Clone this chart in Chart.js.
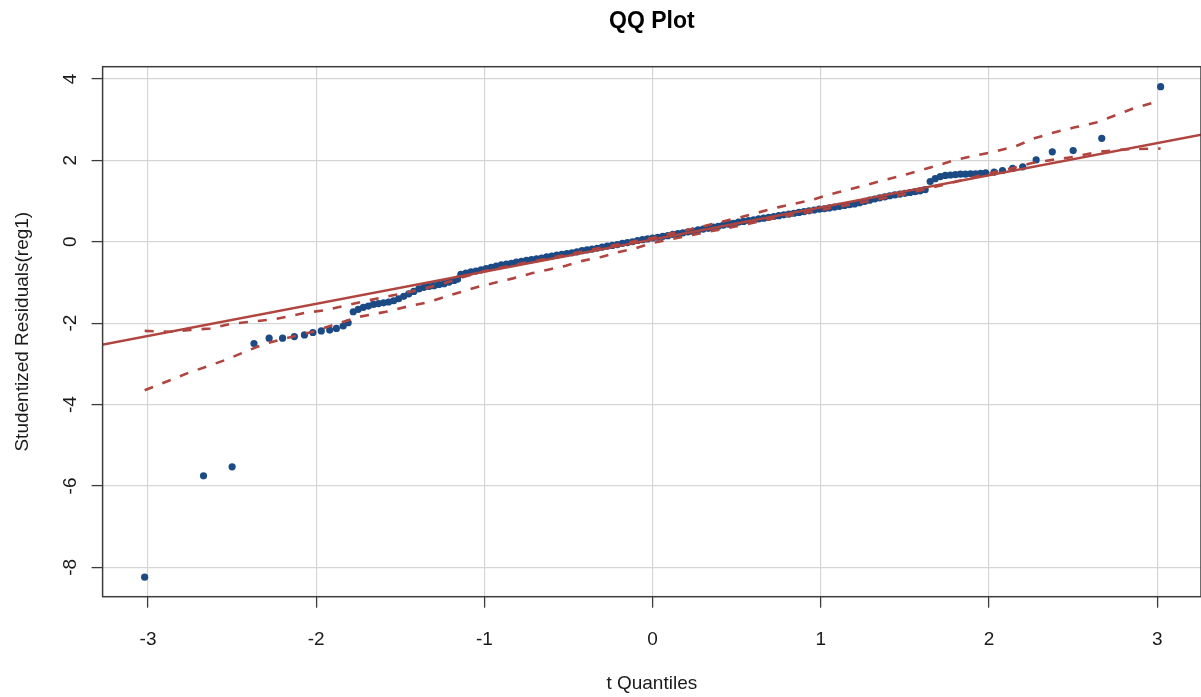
<!DOCTYPE html>
<html>
<head>
<meta charset="utf-8">
<title>QQ Plot</title>
<script src="https://cdn.jsdelivr.net/npm/chart.js@4/dist/chart.umd.min.js"></script>
<style>
  html, body { margin: 0; padding: 0; background: #ffffff; overflow: hidden; }
  canvas { display: block; }
</style>
</head>
<body>
<canvas id="qq" width="1205" height="697"></canvas>
<script>
// Theoretical t quantiles (x) and sorted studentized residuals (y)
const quantileX = [
  -3.02, -2.67, -2.50, -2.37, -2.28, -2.20, -2.13, -2.07, -2.02, -1.97, -1.92, -1.88, -1.84, -1.81, -1.78,
  -1.75, -1.72, -1.69, -1.66, -1.63, -1.60, -1.57, -1.54, -1.51, -1.48, -1.45, -1.42, -1.39, -1.36, -1.33,
  -1.30, -1.27, -1.24, -1.21, -1.18, -1.16, -1.14, -1.11, -1.08, -1.05, -1.02, -0.99, -0.96, -0.93, -0.90,
  -0.87, -0.84, -0.81, -0.78, -0.75, -0.72, -0.69, -0.66, -0.63, -0.60, -0.57, -0.54, -0.51, -0.48, -0.45,
  -0.42, -0.39, -0.36, -0.33, -0.30, -0.27, -0.24, -0.21, -0.18, -0.15, -0.12, -0.09, -0.06, -0.03, 0.00,
  0.03, 0.06, 0.09, 0.12, 0.15, 0.18, 0.21, 0.24, 0.27, 0.30, 0.33, 0.36, 0.39, 0.42, 0.45,
  0.48, 0.51, 0.54, 0.57, 0.60, 0.63, 0.66, 0.69, 0.72, 0.75, 0.78, 0.81, 0.84, 0.87, 0.90,
  0.93, 0.96, 0.99, 1.02, 1.05, 1.08, 1.11, 1.14, 1.17, 1.20, 1.23, 1.26, 1.29, 1.32, 1.35,
  1.38, 1.41, 1.44, 1.47, 1.50, 1.53, 1.56, 1.59, 1.62, 1.65, 1.68, 1.71, 1.74, 1.77, 1.80,
  1.83, 1.86, 1.89, 1.92, 1.95, 1.98, 2.03, 2.08, 2.14, 2.20, 2.28, 2.376, 2.50, 2.67, 3.02
];
const residualY = [
  -8.24, -5.75, -5.53, -2.50, -2.37, -2.37, -2.33, -2.29, -2.23, -2.19, -2.17, -2.13, -2.07, -1.99, -1.72,
  -1.66, -1.61, -1.58, -1.54, -1.52, -1.50, -1.48, -1.45, -1.40, -1.34, -1.28, -1.22, -1.16, -1.12, -1.10,
  -1.08, -1.05, -1.03, -0.99, -0.95, -0.92, -0.80, -0.77, -0.74, -0.72, -0.69, -0.66, -0.63, -0.60, -0.57,
  -0.55, -0.53, -0.50, -0.48, -0.46, -0.44, -0.42, -0.40, -0.37, -0.35, -0.33, -0.31, -0.29, -0.27, -0.25,
  -0.22, -0.20, -0.18, -0.16, -0.13, -0.11, -0.09, -0.07, -0.04, -0.02, 0.00, 0.03, 0.05, 0.07, 0.09,
  0.11, 0.13, 0.15, 0.18, 0.20, 0.22, 0.24, 0.26, 0.29, 0.31, 0.33, 0.36, 0.38, 0.41, 0.43,
  0.45, 0.48, 0.50, 0.52, 0.54, 0.56, 0.58, 0.60, 0.62, 0.64, 0.66, 0.68, 0.70, 0.72, 0.74,
  0.76, 0.78, 0.80, 0.81, 0.83, 0.85, 0.87, 0.89, 0.91, 0.93, 0.96, 0.99, 1.02, 1.05, 1.08,
  1.10, 1.13, 1.15, 1.17, 1.19, 1.21, 1.23, 1.25, 1.28, 1.48, 1.55, 1.60, 1.63, 1.64, 1.65,
  1.66, 1.66, 1.67, 1.67, 1.68, 1.69, 1.71, 1.75, 1.80, 1.84, 2.01, 2.21, 2.24, 2.54, 3.81
];

// Reference line through the quartiles (end points beyond the plot edges)
const refLineX = [-3.4, 3.4];
const refLineY = [-2.63, 2.74];

// Pointwise confidence envelope
const upperX = [-3.02, -2.87, -2.75, -2.63, -2.51, -2.40, -2.26, -2.16, -2.06, -1.94, -1.82, -1.70, -1.585, -1.466,
  -1.35, -1.23, -1.11, -1.00, -0.75, -0.50, -0.25, 0.00, 0.25, 0.51, 0.75, 0.94, 1.05, 1.156, 1.265, 1.364,
  1.47, 1.58, 1.69, 1.80, 1.92, 2.04, 2.16, 2.27, 2.38, 2.51, 2.63, 2.74, 2.86, 3.02];
const upperY = [-2.19, -2.21, -2.17, -2.13, -2.02, -1.97, -1.91, -1.83, -1.74, -1.68, -1.56, -1.45, -1.35, -1.25,
  -1.14, -1.01, -0.85, -0.72, -0.51, -0.31, -0.10, 0.10, 0.33, 0.59, 0.85, 1.02, 1.16, 1.27, 1.39, 1.50,
  1.61, 1.74, 1.87, 2.01, 2.12, 2.22, 2.35, 2.54, 2.68, 2.81, 2.92, 3.09, 3.28, 3.47];
const lowerX = [-3.02, -2.88, -2.76, -2.64, -2.53, -2.41, -2.30, -2.18, -2.02, -1.88, -1.74, -1.585, -1.466, -1.33,
  -1.17, -1.03, -0.83, -0.714, -0.615, -0.516, -0.417, -0.30, -0.21, -0.10, 0.00, 0.25, 0.50, 0.75, 1.00, 1.25,
  1.50, 1.75, 1.96, 2.13, 2.25, 2.39, 2.51, 2.65, 2.81, 3.02];
const lowerY = [-3.65, -3.42, -3.22, -3.05, -2.89, -2.68, -2.50, -2.37, -2.21, -2.02, -1.84, -1.72, -1.60, -1.48,
  -1.27, -1.10, -0.90, -0.77, -0.68, -0.59, -0.47, -0.37, -0.26, -0.16, -0.03, 0.18, 0.38, 0.60, 0.78, 0.97,
  1.17, 1.42, 1.64, 1.80, 1.93, 2.02, 2.09, 2.21, 2.27, 2.29];

const xTickLabels = ['-3', '-2', '-1', '0', '1', '2', '3'];
const yTickLabels = ['-8', '-6', '-4', '-2', '0', '2', '4'];

const pairs = (xs, ys) => xs.map((x, i) => ({ x: x, y: ys[i] }));

const RED = '#b0443f';
const BLUE = '#1b4a84';
const FONT = '"Liberation Sans", Arial, sans-serif';
const TICK_LEN = 11;

// Plot frame, rotated y tick labels, axis titles and main title
const decorations = {
  id: 'decorations',
  afterDraw(chart) {
    const { ctx, chartArea: a, scales } = chart;
    ctx.save();
    ctx.strokeStyle = '#3c3c3c';
    ctx.lineWidth = 1.5;
    ctx.strokeRect(a.left, a.top, a.right - a.left, a.bottom - a.top);

    ctx.fillStyle = '#1a1a1a';
    ctx.font = '19px ' + FONT;
    ctx.textAlign = 'center';
    ctx.textBaseline = 'alphabetic';
    scales.x.ticks.forEach((t, i) => {
      const px = scales.x.getPixelForValue(t.value);
      ctx.fillText(xTickLabels[i], px, a.bottom + 48);
    });
    scales.y.ticks.forEach((t, i) => {
      const py = scales.y.getPixelForValue(t.value);
      ctx.save();
      ctx.translate(a.left - 27, py);
      ctx.rotate(-Math.PI / 2);
      ctx.fillText(yTickLabels[i], 0, 0);
      ctx.restore();
    });

    const cx = (a.left + a.right) / 2;
    const cy = (a.top + a.bottom) / 2;
    ctx.fillText('t Quantiles', cx, 689);
    ctx.save();
    ctx.translate(28, cy);
    ctx.rotate(-Math.PI / 2);
    ctx.fillText('Studentized Residuals(reg1)', 0, 0);
    ctx.restore();

    ctx.fillStyle = '#000000';
    ctx.font = 'bold 23px ' + FONT;
    ctx.fillText('QQ Plot', cx, 28);
    ctx.restore();
  }
};

new Chart(document.getElementById('qq'), {
  type: 'scatter',
  data: {
    datasets: [
      {
        label: 'reference line',
        data: pairs(refLineX, refLineY),
        showLine: true,
        borderColor: RED,
        borderWidth: 2.5,
        pointRadius: 0,
        order: 1
      },
      {
        label: 'upper envelope',
        data: pairs(upperX, upperY),
        showLine: true,
        borderColor: RED,
        borderWidth: 2.6,
        borderDash: [9, 10],
        pointRadius: 0,
        order: 1
      },
      {
        label: 'lower envelope',
        data: pairs(lowerX, lowerY),
        showLine: true,
        borderColor: RED,
        borderWidth: 2.6,
        borderDash: [9, 10],
        pointRadius: 0,
        order: 1
      },
      {
        label: 'residuals',
        data: pairs(quantileX, residualY),
        backgroundColor: BLUE,
        borderWidth: 0,
        pointRadius: 3.6,
        order: 3
      }
    ]
  },
  options: {
    responsive: false,
    animation: false,
    devicePixelRatio: 1,
    events: [],
    layout: {
      padding: { left: 102.6 - TICK_LEN, right: 1205 - 1202.6, top: 66.7, bottom: 697 - 596.7 - TICK_LEN }
    },
    plugins: {
      legend: { display: false },
      tooltip: { enabled: false },
      title: { display: false }
    },
    scales: {
      x: {
        type: 'linear',
        min: -3.27,
        max: 3.26,
        afterFit: (s) => { s.height = TICK_LEN; },
        ticks: { stepSize: 1, includeBounds: false, display: false },
        grid: { color: '#d5d5d5', lineWidth: 1.2, tickColor: '#3c3c3c', tickWidth: 1.3, tickLength: TICK_LEN },
        border: { display: false }
      },
      y: {
        type: 'linear',
        min: -8.72,
        max: 4.30,
        afterFit: (s) => { s.width = TICK_LEN; },
        ticks: { stepSize: 2, includeBounds: false, display: false },
        grid: { color: '#d5d5d5', lineWidth: 1.2, tickColor: '#3c3c3c', tickWidth: 1.3, tickLength: TICK_LEN },
        border: { display: false }
      }
    }
  },
  plugins: [decorations]
});
</script>
</body>
</html>
